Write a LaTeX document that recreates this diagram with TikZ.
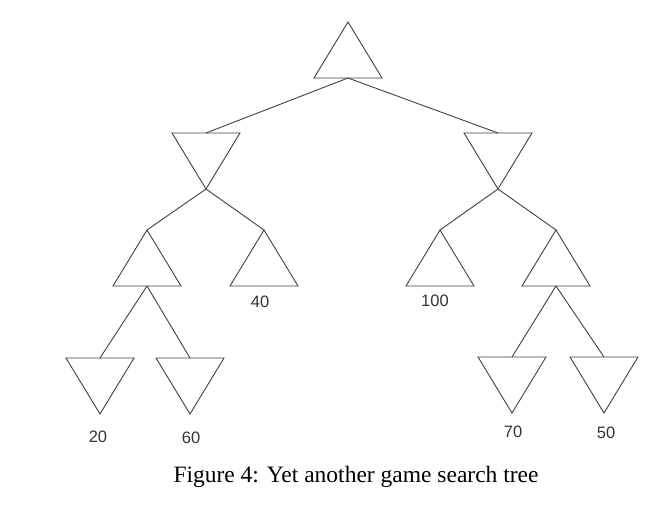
\documentclass[tikz,border=0pt]{standalone}
\usepackage{fontspec}
\setmainfont{Liberation Serif}
\newfontfamily\labfont{Liberation Sans}
\begin{document}
\begin{tikzpicture}[x=1pt,y=-1pt,line width=0.9pt,
  lab/.style={font=\labfont\fontsize{16.5}{19}\selectfont,text=black!80}]
\useasboundingbox (0,0) rectangle (664,522);
% max nodes (apex up): top, base centre
\foreach \n/\x/\y in {r/348/22, a/147/230, b/264/230, c/440/230, d/556/230}{
	\draw[gray!50!black] (\x,\y)--(\x+34,\y+56)--(\x-34,\y+56)--cycle;
	\coordinate (\n-t) at (\x,\y);
	\coordinate (\n-b) at (\x,\y+56);}
% min nodes (apex down): top centre, apex
\foreach \n/\x/\y in {l/206/133, m/498/133, e/100/358, f/190/358, g/512/357, h/604/357}{
	\draw[gray!50!black] (\x-34,\y)--(\x+34,\y)--(\x,\y+56)--cycle;
	\coordinate (\n-t) at (\x,\y);
	\coordinate (\n-b) at (\x,\y+56);}
\draw[gray!50!black] (r-b)--(l-t) (r-b)--(m-t);
\draw[gray!50!black] (l-b)--(a-t) (l-b)--(b-t) (m-b)--(c-t) (m-b)--(d-t);
\draw[gray!50!black] (a-b)--(e-t) (a-b)--(f-t) (d-b)--(g-t) (d-b)--(h-t);
\node[lab] (v40) at (260,302) {40};
\node[lab] (v100) at (435,301) {100};
\node[lab] (v20) at (98,437) {20};
\node[lab] (v60) at (191,438) {60};
\node[lab] (v70) at (513,432) {70};
\node[lab] (v50) at (606,433) {50};
\node[font=\fontsize{23.5}{28}\selectfont] (cap) at (356,477) {Figure 4: Yet another game search tree};
\end{tikzpicture}
\end{document}
